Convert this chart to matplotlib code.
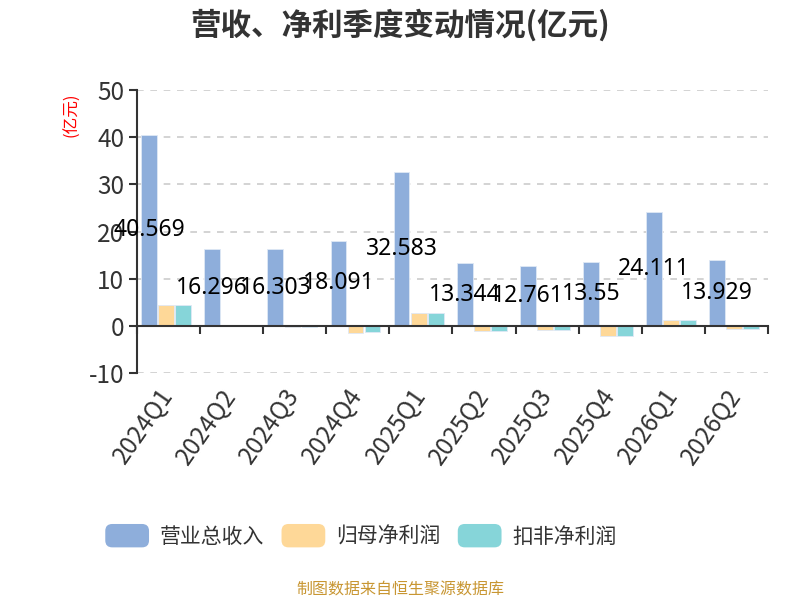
import numpy as np
import matplotlib
matplotlib.use('Agg')
import matplotlib.pyplot as plt
from matplotlib.patches import FancyBboxPatch
from matplotlib.legend_handler import HandlerPatch

plt.rcParams['font.family'] = ['Noto Sans CJK SC', 'DejaVu Sans']
plt.rcParams['axes.unicode_minus'] = False

# data (亿元)
quarters = ['2024Q1', '2024Q2', '2024Q3', '2024Q4', '2025Q1',
            '2025Q2', '2025Q3', '2025Q4', '2026Q1', '2026Q2']
revenue = [40.569, 16.296, 16.303, 18.091, 32.583, 13.344, 12.761, 13.55, 24.111, 13.929]
net_profit = [4.4, -0.1, -0.2, -1.5, 2.8, -1.0, -0.8, -2.2, 1.2, -0.7]
net_profit_ded = [4.4, -0.1, -0.3, -1.3, 2.8, -1.0, -0.9, -2.2, 1.2, -0.6]
series_names = ['营业总收入', '归母净利润', '扣非净利润']
colors = ['#8eaedb', '#fed898', '#86d5d9']
yticks = [-10, 0, 10, 20, 30, 40, 50]


class RoundHandler(HandlerPatch):
    def create_artists(self, legend, orig_handle, xdescent, ydescent,
                       width, height, fontsize, trans):
        p = FancyBboxPatch((-xdescent, -ydescent), width, height,
                           boxstyle='round,pad=0,rounding_size=5',
                           facecolor=orig_handle.get_facecolor(),
                           edgecolor='none', transform=trans)
        return [p]


fig = plt.figure(figsize=(8, 6), dpi=100)
ax = fig.add_axes([0.171, 0.378, 0.789, 0.472])

x = np.arange(len(quarters))
w = 0.25
step = 0.27
shift = -0.035
bars = []
for k, vals in enumerate([revenue, net_profit, net_profit_ded]):
    b = ax.bar(x + (k - 1) * step + shift, vals, width=w, color=colors[k],
               edgecolor='#dfe8f5', linewidth=0.6, label=series_names[k], zorder=3)
    bars.append(b)

# value labels in the middle of revenue bars
for xi, v in zip(x, revenue):
    ax.text(xi - step + shift, v / 2, str(v), ha='center', va='center',
            fontsize=16.5, family='Noto Sans', color='black', zorder=5)

ax.set_xlim(-0.5, len(quarters) - 0.5)
ax.set_ylim(-10, 50)
ax.set_yticks(yticks)
ax.grid(axis='y', color='#cccccc', linestyle=(0, (4, 4)), linewidth=1.2, zorder=0)

for s in ['top', 'right']:
    ax.spines[s].set_visible(False)
ax.spines['left'].set_color('#333333')
ax.spines['left'].set_linewidth(1.5)
ax.spines['bottom'].set_position(('data', 0))
ax.spines['bottom'].set_color('#333333')
ax.spines['bottom'].set_linewidth(1.5)
ax.spines['bottom'].set_zorder(4)

ax.set_xticks(x)
ax.set_xticks(np.arange(len(quarters) + 1) - 0.5, minor=True)
ax.set_xticklabels(quarters, rotation=55, ha='right', va='center',
                   rotation_mode='anchor')
ax.tick_params(axis='x', which='major', length=0, pad=47, labelsize=17.5,
               labelcolor='#333333')
ax.tick_params(axis='x', which='minor', length=6, width=1.5, color='#333333')
ax.tick_params(axis='y', length=6, width=1.5, color='#333333', labelsize=17.5,
               labelcolor='#333333', pad=3)

fig.text(0.5, 0.958, '营收、净利季度变动情况(亿元)', ha='center', va='center',
         fontsize=22, fontweight='bold', color='#333333')
fig.text(0.09, 0.808, '(亿元)', ha='center', va='center', rotation=90,
         fontsize=12, color='red')

ax.legend(handles=[b[0] for b in bars], labels=series_names,
          handler_map={matplotlib.patches.Rectangle: RoundHandler()},
          loc='center', bbox_to_anchor=(0.451, 0.107), bbox_transform=fig.transFigure,
          ncol=3, frameon=False, fontsize=15, labelcolor='#333333',
          handlelength=2.1, handleheight=1.35, handletextpad=0.5,
          columnspacing=0.85)

fig.text(0.5, 0.017, '制图数据来自恒生聚源数据库', ha='center', va='center',
         fontsize=11.5, color='#c89632')

fig.savefig('out.png', dpi=100)
